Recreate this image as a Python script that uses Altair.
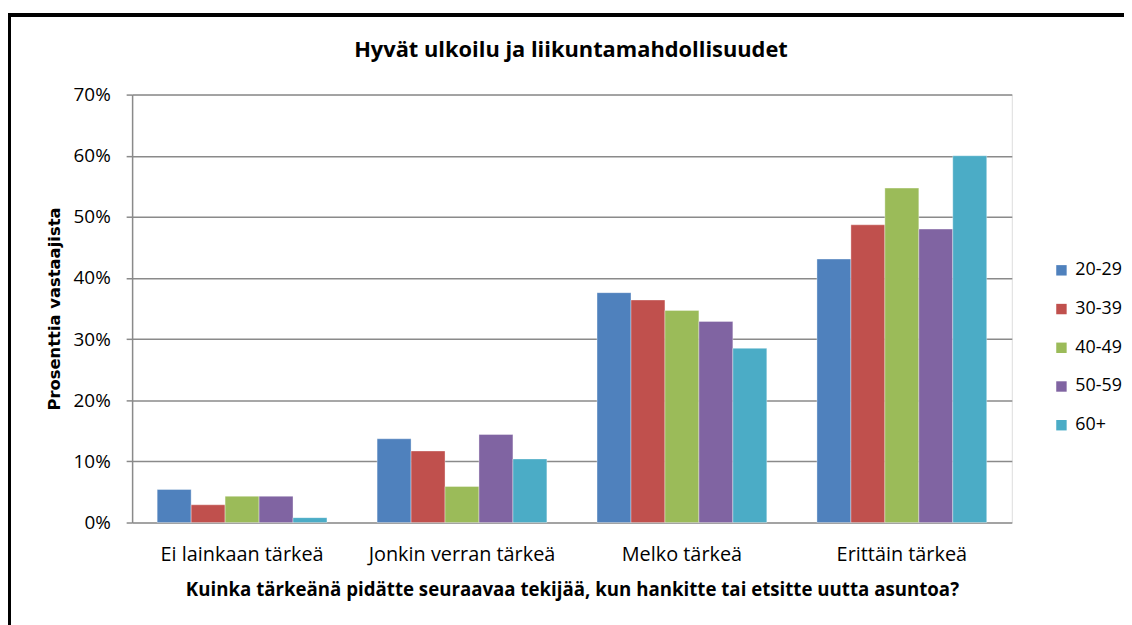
import altair as alt
import pandas as pd

categories = ["Ei lainkaan tärkeä", "Jonkin verran tärkeä", "Melko tärkeä", "Erittäin tärkeä"]
groups = ["20-29", "30-39", "40-49", "50-59", "60+"]
v_20_29 = [5.4, 13.7, 37.6, 43.1]
v_30_39 = [2.9, 11.7, 36.4, 48.7]
v_40_49 = [4.3, 5.9, 34.7, 54.7]
v_50_59 = [4.3, 14.4, 32.9, 48.0]
v_60 = [0.8, 10.4, 28.5, 60.0]
colors = ["#4F81BD", "#C0504D", "#9BBB59", "#8064A2", "#4BACC6"]
y_ticks = [0, 10, 20, 30, 40, 50, 60, 70]
chart_title = ["Hyvät ulkoilu ja liikuntamahdollisuudet"]

series = [v_20_29, v_30_39, v_40_49, v_50_59, v_60]
rows = []
for g, vals in zip(groups, series):
    for c, v in zip(categories, vals):
        rows.append({"cat": c, "group": g, "value": v})
df = pd.DataFrame(rows)
title_df = pd.DataFrame({"t": chart_title})

FONT = "Open Sans"

bars = alt.Chart(df).mark_bar(stroke="white", strokeWidth=0.6, strokeOpacity=0.6).encode(
    x=alt.X("cat:N", sort=categories,
            scale=alt.Scale(paddingInner=0.228, paddingOuter=0.114),
            axis=alt.Axis(title="Kuinka tärkeänä pidätte seuraavaa tekijää, kun hankitte tai etsitte uutta asuntoa?",
                          labelAngle=0, ticks=False, domain=False, labelPadding=22,
                          labelLimit=400, titleLimit=1000,
                          labelFontSize=20, labelFont=FONT, labelColor="#000",
                          titleFontSize=18.8, titleFont=FONT, titleFontWeight="bold",
                          titleColor="#000", titlePadding=16)),
    xOffset=alt.XOffset("group:N", sort=groups, scale=alt.Scale(paddingInner=0, paddingOuter=0)),
    y=alt.Y("value:Q", scale=alt.Scale(domain=[0, 70], nice=False),
            axis=alt.Axis(title="Prosenttia vastaajista", values=y_ticks,
                          labelExpr="datum.value + '%'",
                          labelFontSize=19, labelFont=FONT, labelColor="#000",
                          titleFontSize=16.5, titleFont="DejaVu Sans", titleFontWeight="bold",
                          titleColor="#000", titlePadding=11,
                          tickSize=6, tickColor="#8a8a8a", tickWidth=1.5,
                          domainColor="#8a8a8a", domainWidth=1.5,
                          gridColor="#8a8a8a", gridWidth=1.5, labelPadding=16)),
    color=alt.Color("group:N", sort=groups,
                    scale=alt.Scale(domain=groups, range=colors),
                    legend=alt.Legend(title=None, orient="none", legendX=927, legendY=168,
                                      symbolType="square", symbolSize=110,
                                      symbolStrokeWidth=0,
                                      labelFontSize=18, labelFont=FONT, labelColor="#000",
                                      rowPadding=21, labelOffset=5)),
)

frame = alt.Chart(df).mark_rect(fill=None, stroke="black", strokeWidth=3).encode(
    x=alt.value(-123.5), x2=alt.value(1200), y=alt.value(-80.5), y2=alt.value(700)
)

title = alt.Chart(title_df).mark_text(font=FONT, fontSize=22, fontWeight="bold",
                                      color="#000", baseline="middle", align="center").encode(
    text="t:N", x=alt.value(442), y=alt.value(-45)
)

chart = alt.layer(frame, bars, title).properties(
    width=886, height=431,
    autosize=alt.AutoSizeParams(type="none"),
    padding={"left": 125, "top": 85, "right": 113, "bottom": 101},
).configure_view(stroke=None).configure_axisX(grid=False).configure(background="white")

chart.save("out.html", embed_options={"renderer": "svg", "actions": False})
